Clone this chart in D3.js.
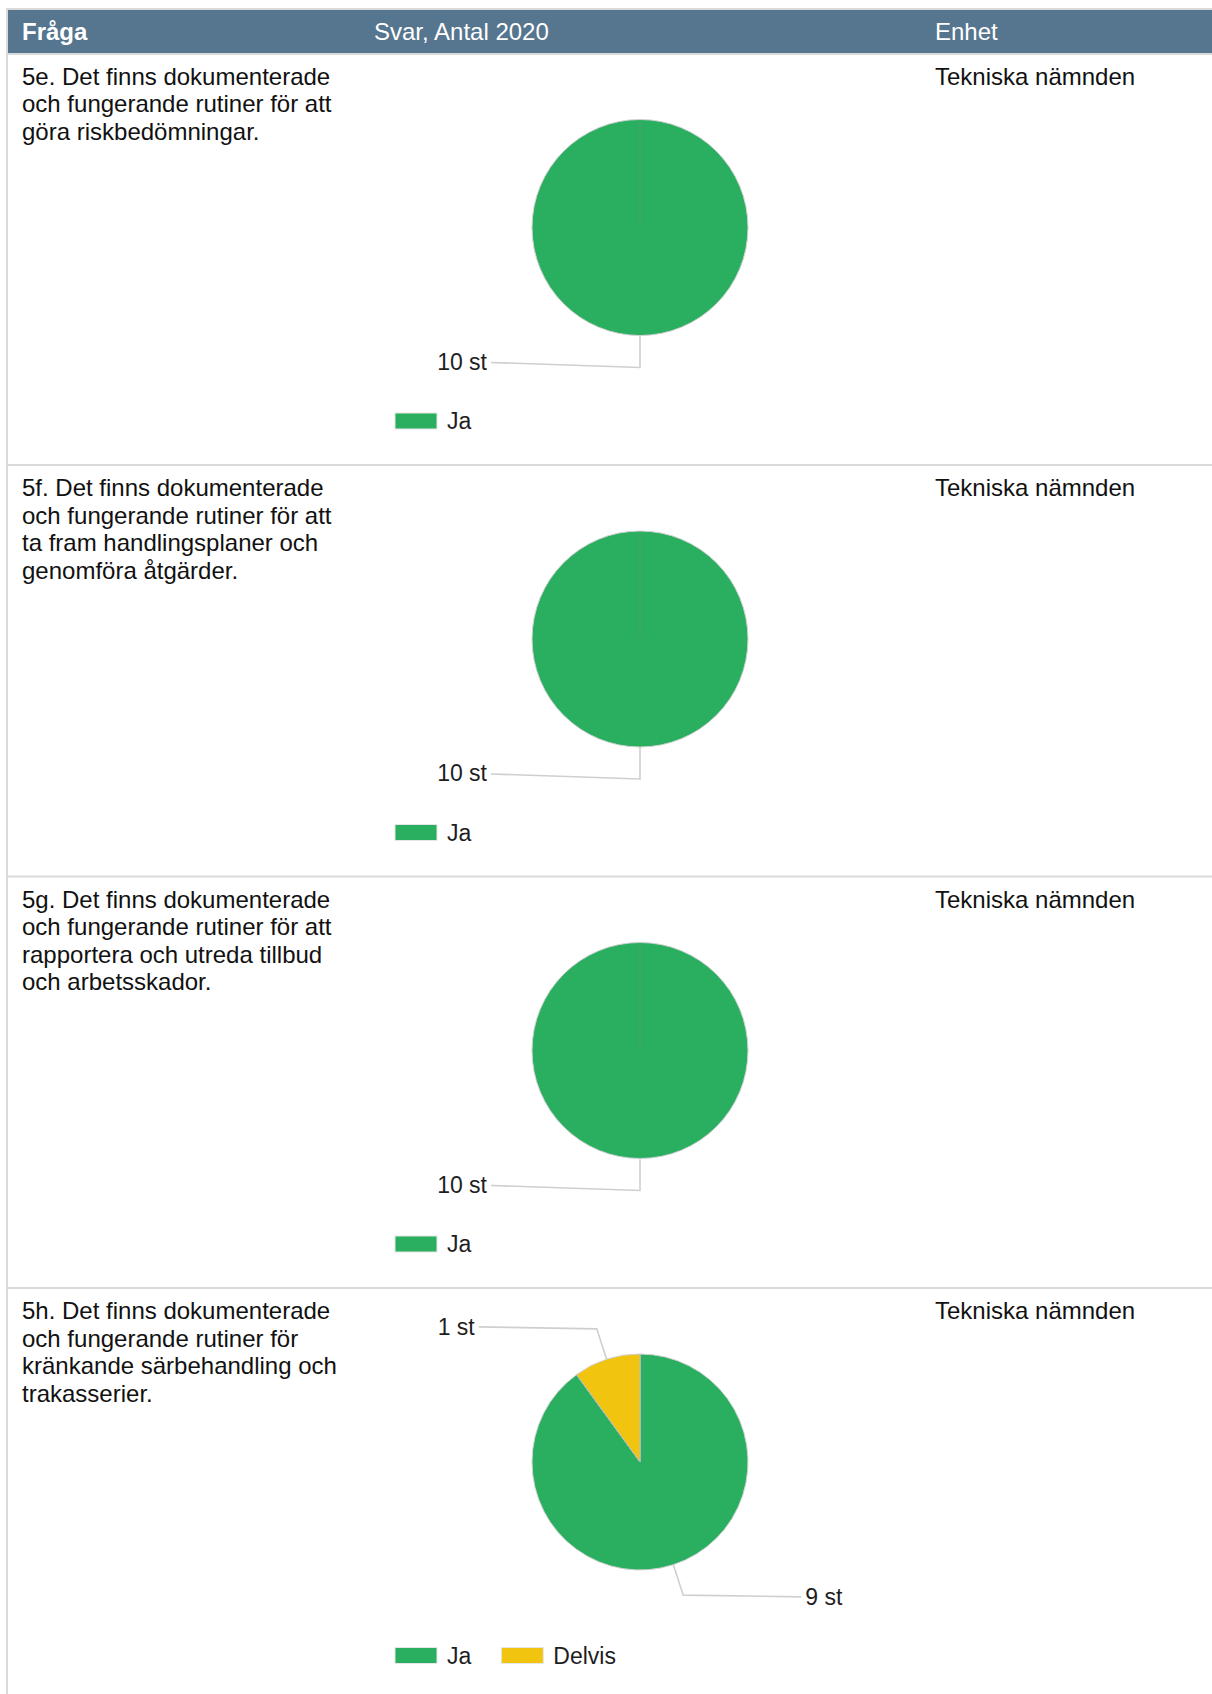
<!DOCTYPE html>
<html>
<head>
<meta charset="utf-8">
<script src="https://cdn.jsdelivr.net/npm/d3@7/dist/d3.min.js"></script>
<style>
  html, body { margin: 0; padding: 0; background: #fff; }
  svg { display: block; }
  text { font-family: "Liberation Sans", Arial, Helvetica, sans-serif; }
</style>
</head>
<body>
<svg id="chart" width="1212" height="1694"></svg>
<script>
// ---- data ----
const headerLabels = ["Fråga", "Svar, Antal 2020", "Enhet"];
const questionLines = [
  ["5e. Det finns dokumenterade", "och fungerande rutiner för att", "göra riskbedömningar."],
  ["5f. Det finns dokumenterade", "och fungerande rutiner för att", "ta fram handlingsplaner och", "genomföra åtgärder."],
  ["5g. Det finns dokumenterade", "och fungerande rutiner för att", "rapportera och utreda tillbud", "och arbetsskador."],
  ["5h. Det finns dokumenterade", "och fungerande rutiner för", "kränkande särbehandling och", "trakasserier."]
];
const units = ["Tekniska nämnden", "Tekniska nämnden", "Tekniska nämnden", "Tekniska nämnden"];
const categories = ["Ja", "Delvis"];
const jaValues = [10, 10, 10, 9];
const delvisValues = [0, 0, 0, 1];
const unitSuffix = " st";

// ---- layout ----
const W = 1212, H = 1694;
const svg = d3.select("#chart");
const color = d3.scaleOrdinal().domain(categories).range(["#2aae60", "#f1c40f"]);
const rowTop0 = 55, rowPitch = 411.5;
const rowY = d3.scaleLinear().domain([0, 1]).range([rowTop0, rowTop0 + rowPitch]);
const colX = [22, 374, 935];
const tableFont = 24;
const chartFont = 23;
const pieCx = 640, pieR = 108;

// frame
svg.append("rect").attr("x", 6).attr("y", 8).attr("width", W - 6).attr("height", 2).attr("fill", "#d9d9d9");
svg.append("rect").attr("x", 8).attr("y", 10).attr("width", W - 8).attr("height", 43).attr("fill", "#56758f");
svg.append("rect").attr("x", 6).attr("y", 53).attr("width", W - 6).attr("height", 2).attr("fill", "#d9d9d9");
svg.append("rect").attr("x", 6).attr("y", 8).attr("width", 2).attr("height", H - 8).attr("fill", "#d9d9d9");

// header
svg.selectAll("text.hdr").data(headerLabels).join("text")
  .attr("class", "hdr")
  .attr("x", (d, i) => colX[i])
  .attr("y", 39.5)
  .attr("fill", "#fff")
  .attr("font-size", tableFont)
  .attr("font-weight", (d, i) => i === 0 ? "bold" : "normal")
  .text(d => d);

const rows = questionLines.map((lines, i) => ({
  lines, unit: units[i],
  values: categories.map((c, j) => ({ cat: c, value: j === 0 ? jaValues[i] : delvisValues[i] }))
}));

const pie = d3.pie().sort(null).value(d => d.value).startAngle(0).endAngle(2 * Math.PI);
const arc = d3.arc().innerRadius(0).outerRadius(pieR);

rows.forEach((row, i) => {
  const top = rowY(i);
  const g = svg.append("g");

  // separator below row (except last)
  if (i < rows.length - 1) {
    g.append("rect").attr("x", 6).attr("y", top + 409).attr("width", W - 6).attr("height", 2).attr("fill", "#d9d9d9");
  }

  // question text
  const t = g.append("text").attr("font-size", tableFont).attr("fill", "#111");
  row.lines.forEach((ln, k) => {
    t.append("tspan").attr("x", colX[0]).attr("y", top + 29.5 + k * 27.5).text(ln);
  });

  // unit
  g.append("text").attr("x", colX[2]).attr("y", top + 29.5).attr("font-size", tableFont)
    .attr("fill", "#111").text(row.unit);

  // pie
  const cy = top + 172.5;
  const pg = g.append("g").attr("transform", `translate(${pieCx},${cy})`);
  const arcs = pie(row.values).filter(a => a.data.value > 0);
  pg.selectAll("path").data(arcs).join("path")
    .attr("d", arc)
    .attr("fill", d => color(d.data.cat))
    .attr("stroke", "#d2d2d2")
    .attr("stroke-width", 1);
  // slice boundary lines
  pg.selectAll("line.edge").data(arcs).join("line")
    .attr("class", "edge")
    .attr("x1", 0).attr("y1", 0)
    .attr("x2", d => pieR * Math.sin(d.startAngle))
    .attr("y2", d => -pieR * Math.cos(d.startAngle))
    .attr("stroke", "rgba(140,140,140,0.35)")
    .attr("stroke-width", 1);

  // leader lines + labels
  arcs.forEach(a => {
    const mid = (a.startAngle + a.endAngle) / 2;
    const sx = Math.sin(mid), sy = -Math.cos(mid);
    const p0 = [pieR * sx, pieR * sy];
    const p1 = [(pieR + 32) * sx, (pieR + 32) * sy];
    const side = sx > 1e-6 ? 1 : -1;
    const full = a.endAngle - a.startAngle > 2 * Math.PI - 1e-6;
    const endDist = Math.max(149, Math.abs(p1[0]) + 118);
    const p2 = [side * endDist, p1[1] + (full ? -5 : (side < 0 ? -2 : 1.7))];
    pg.append("polyline")
      .attr("points", [p0, p1, p2].map(p => p.join(",")).join(" "))
      .attr("fill", "none")
      .attr("stroke", "#cfcfcf")
      .attr("stroke-width", 1.6);
    pg.append("text")
      .attr("x", p2[0] + side * 4)
      .attr("y", p2[1] + (full ? -1 : 0.5))
      .attr("dy", "0.35em")
      .attr("text-anchor", side < 0 ? "end" : "start")
      .attr("font-size", chartFont)
      .attr("fill", "#1e1e1e")
      .text(a.data.value + unitSuffix);
  });

  // legend
  const legY = cy + 185.5;
  let lx = 395;
  row.values.filter(v => v.value > 0).forEach(v => {
    g.append("rect").attr("x", lx).attr("y", legY).attr("width", 42).attr("height", 16)
      .attr("fill", color(v.cat)).attr("stroke", "#e6e6e6").attr("stroke-width", 1);
    const txt = g.append("text").attr("x", lx + 52).attr("y", legY + 16)
      .attr("font-size", chartFont).attr("fill", "#1e1e1e").text(v.cat);
    lx = lx + 52 + txt.node().getComputedTextLength() + 30;
  });
});
</script>
</body>
</html>
